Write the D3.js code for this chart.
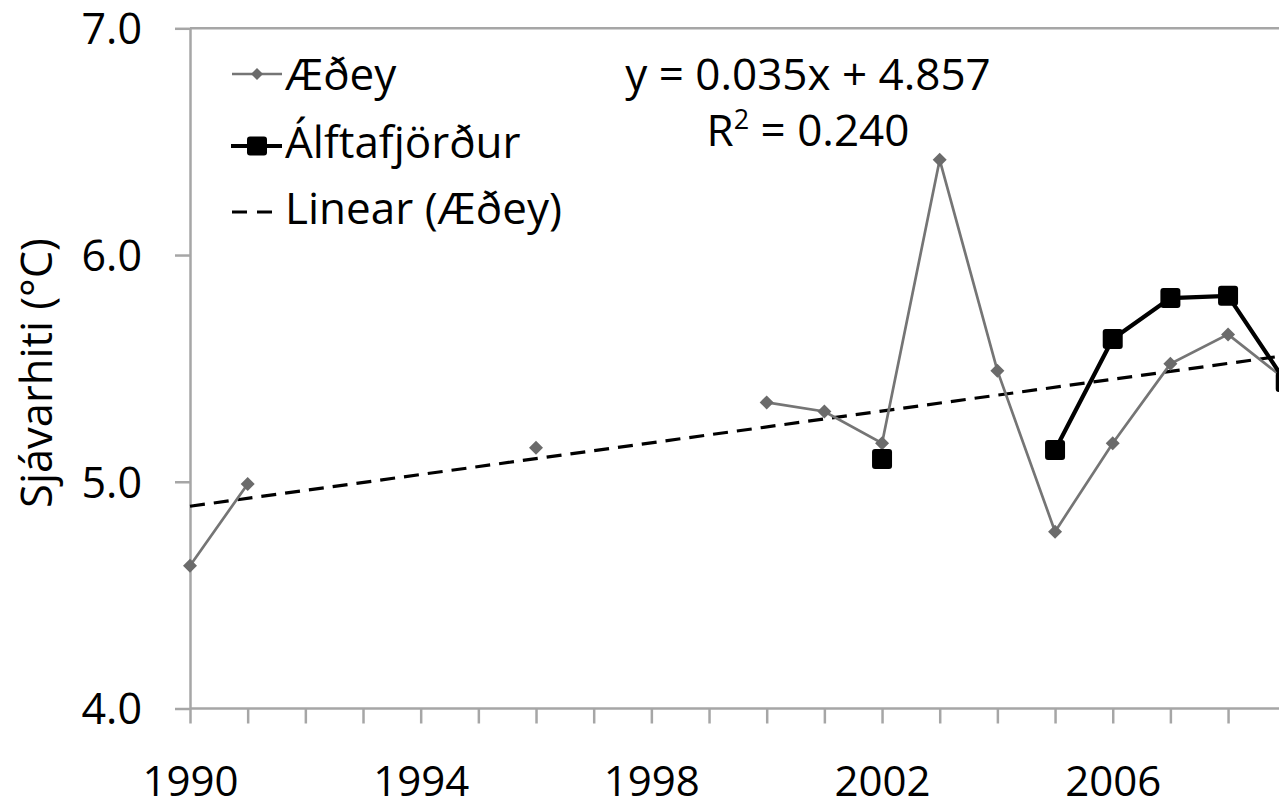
<!DOCTYPE html>
<html>
<head>
<meta charset="utf-8">
<script src="https://cdn.jsdelivr.net/npm/d3@7"></script>
<style>
  html, body { margin: 0; padding: 0; background: #fff; }
  svg { display: block; }
  text { font-family: "Open Sans", sans-serif; fill: #000; }
</style>
</head>
<body>
<svg id="chart" width="1279" height="809"></svg>
<script>
const years = [1990,1991,1992,1993,1994,1995,1996,1997,1998,1999,2000,2001,2002,2003,2004,2005,2006,2007,2008,2009];
const aedey = [4.63,4.99,null,null,null,null,5.15,null,null,null,5.35,5.31,5.17,6.42,5.49,4.78,5.17,5.52,5.65,5.45];
const alft  = [null,null,null,null,null,null,null,null,null,null,null,null,5.10,null,null,5.14,5.63,5.81,5.82,5.44];
const trendSlope = 0.035, trendIntercept = 4.857, rSquared = 0.240;
const yTicks = [4.0, 5.0, 6.0, 7.0];
const xLabelYears = [1990, 1994, 1998, 2002, 2006];
const seriesNames = ["Æðey", "Álftafjörður", "Linear (Æðey)"];

const FONT = "'Open Sans', sans-serif";
const svg = d3.select("#chart");
const x = d3.scaleLinear().domain([1990, 2009]).range([190, 190 + 19 * 57.67]);
const y = d3.scaleLinear().domain([4, 7]).range([708.5, 28.3]);
const axisColor = "#a6a6a6";

// top border
svg.append("line").attr("x1", x(1990)).attr("x2", 1279).attr("y1", y(7)).attr("y2", y(7))
  .attr("stroke", axisColor).attr("stroke-width", 2.5);

// y axis
const yAxis = svg.append("g").attr("transform", `translate(${x(1990)},0)`)
  .call(d3.axisLeft(y).tickValues(yTicks).tickSize(15).tickSizeOuter(0).tickPadding(33).tickFormat(d3.format(".1f")));
yAxis.select(".domain").attr("stroke", axisColor).attr("stroke-width", 2.5);
yAxis.selectAll(".tick line").attr("stroke", axisColor).attr("stroke-width", 2.5);
yAxis.selectAll(".tick text").attr("font-size", 43).attr("font-family", FONT).attr("fill", "#000").attr("dy", "0.36em");

// x axis
const xAxis = svg.append("g").attr("transform", `translate(0,${y(4)})`)
  .call(d3.axisBottom(x).tickValues(years).tickSize(15).tickSizeOuter(0).tickFormat(d => xLabelYears.includes(d) ? String(d) : ""));
xAxis.select(".domain").attr("stroke", axisColor).attr("stroke-width", 2.5).attr("d", `M${x(1990)},0H1279`);
xAxis.selectAll(".tick line").attr("stroke", axisColor).attr("stroke-width", 2.5);
xAxis.selectAll(".tick text").attr("font-size", 42).attr("font-family", FONT).attr("fill", "#000")
  .attr("y", 87.5).attr("dy", null);

// y title
svg.append("text").attr("transform", `translate(52,373) rotate(-90)`)
  .attr("text-anchor", "middle").attr("font-size", 43.5).text("Sjávarhiti (°C)");

// trend line
svg.append("line")
  .attr("x1", x(years[0])).attr("y1", y(trendIntercept + trendSlope * 1))
  .attr("x2", x(years[years.length - 1])).attr("y2", y(trendIntercept + trendSlope * years.length))
  .attr("stroke", "#000").attr("stroke-width", 3.2).attr("stroke-dasharray", "15,9");

const line = d3.line().defined(d => d[1] != null).x(d => x(d[0])).y(d => y(d[1]));
const aData = years.map((yr, i) => [yr, aedey[i]]);
const bData = years.map((yr, i) => [yr, alft[i]]);

svg.append("path").datum(aData).attr("d", line).attr("fill", "none").attr("stroke", "#757575").attr("stroke-width", 2.7);
svg.append("path").datum(bData).attr("d", line).attr("fill", "none").attr("stroke", "#000").attr("stroke-width", 4.2);

const diamond = s => `M0,${-s}L${s},0L0,${s}L${-s},0Z`;
svg.selectAll(".dA").data(aData.filter(d => d[1] != null)).enter().append("path")
  .attr("transform", d => `translate(${x(d[0])},${y(d[1])})`).attr("d", diamond(7)).attr("fill", "#6b6b6b");
svg.selectAll(".sB").data(bData.filter(d => d[1] != null)).enter().append("rect")
  .attr("x", d => x(d[0]) - 10).attr("y", d => y(d[1]) - 10).attr("width", 20).attr("height", 20).attr("rx", 3).attr("fill", "#000");

// legend
const lg = svg.append("g");
const rows = [90, 158, 224];
const mid = [74, 146, 212];
lg.append("line").attr("x1", 232).attr("x2", 282).attr("y1", mid[0]).attr("y2", mid[0]).attr("stroke", "#757575").attr("stroke-width", 2.7);
lg.append("path").attr("transform", `translate(257,${mid[0]})`).attr("d", diamond(6)).attr("fill", "#6b6b6b");
lg.append("line").attr("x1", 231).attr("x2", 282).attr("y1", mid[1]).attr("y2", mid[1]).attr("stroke", "#000").attr("stroke-width", 4.2);
lg.append("rect").attr("x", 247).attr("y", mid[1] - 9.5).attr("width", 20).attr("height", 19).attr("rx", 3).attr("fill", "#000");
lg.append("line").attr("x1", 232).attr("x2", 277).attr("y1", mid[2]).attr("y2", mid[2]).attr("stroke", "#000").attr("stroke-width", 3.2).attr("stroke-dasharray", "15,10");
seriesNames.forEach((n, i) => {
  lg.append("text").attr("x", 285).attr("y", rows[i]).attr("font-size", 44).text(n);
});

// equation
svg.append("text").attr("x", 808).attr("y", 90).attr("text-anchor", "middle").attr("font-size", 44)
  .text(`y = ${trendSlope.toFixed(3)}x + ${trendIntercept.toFixed(3)}`);
const r2 = svg.append("text").attr("x", 808).attr("y", 146).attr("text-anchor", "middle").attr("font-size", 44);
r2.append("tspan").text("R");
r2.append("tspan").attr("font-size", 27).attr("dy", -17).text("2");
r2.append("tspan").attr("dy", 17).text(" = " + rSquared.toFixed(3));
</script>
</body>
</html>
